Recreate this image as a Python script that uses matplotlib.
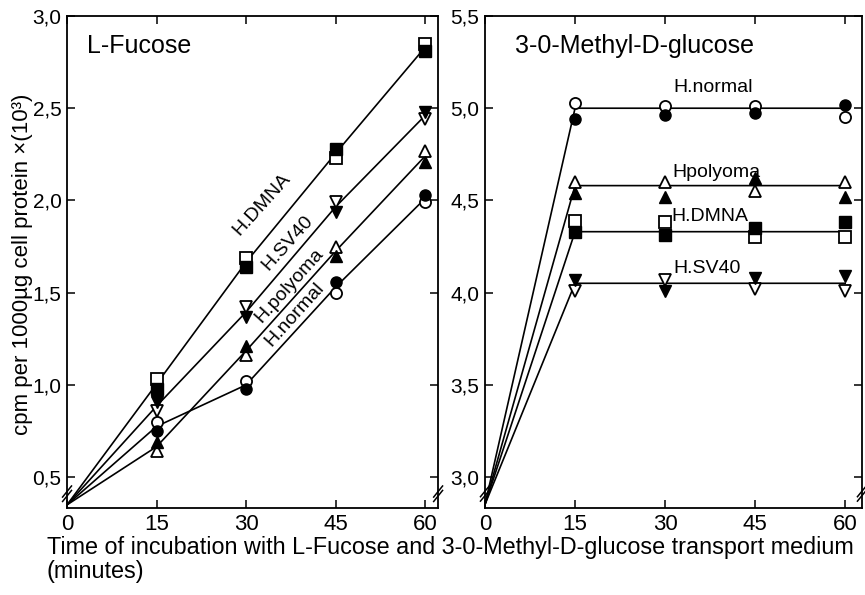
import numpy as np
import matplotlib.pyplot as plt
import matplotlib.transforms as mtransforms

plt.rcParams['font.family'] = ['Liberation Sans', 'DejaVu Sans']

# sampling times (minutes)
times = [15, 30, 45, 60]
line_times = [0, 15, 30, 45, 60]
cells = ['H.DMNA', 'H.SV40', 'H.polyoma', 'H.normal']
open_mk = ['s', 'v', '^', 'o']

# L-Fucose uptake, cpm per 1000 ug cell protein x 10^3 (two readings each)
fuc_open = {
    'H.DMNA':    [1.03, 1.69, 2.23, 2.85],
    'H.SV40':    [0.86, 1.42, 1.99, 2.44],
    'H.polyoma': [0.64, 1.16, 1.75, 2.27],
    'H.normal':  [0.80, 1.02, 1.50, 1.99],
}
fuc_filled = {
    'H.DMNA':    [0.98, 1.64, 2.28, 2.81],
    'H.SV40':    [0.91, 1.37, 1.94, 2.48],
    'H.polyoma': [0.69, 1.21, 1.70, 2.21],
    'H.normal':  [0.75, 0.98, 1.56, 2.03],
}
fuc_start = 0.35

# 3-O-Methyl-D-glucose uptake
mg_open = {
    'H.DMNA':    [4.39, 4.38, 4.30, 4.30],
    'H.SV40':    [4.01, 4.07, 4.02, 4.01],
    'H.polyoma': [4.60, 4.60, 4.55, 4.60],
    'H.normal':  [5.03, 5.01, 5.01, 4.955],
}
mg_filled = {
    'H.DMNA':    [4.33, 4.31, 4.35, 4.38],
    'H.SV40':    [4.07, 4.01, 4.08, 4.09],
    'H.polyoma': [4.54, 4.52, 4.62, 4.52],
    'H.normal':  [4.94, 4.965, 4.975, 5.02],
}
mg_plateau = {'H.DMNA': 4.33, 'H.SV40': 4.05, 'H.polyoma': 4.58, 'H.normal': 5.0}
mg_start = 2.85

fig = plt.figure(figsize=(8.65, 5.95), dpi=100)
ax1 = fig.add_axes([0.0775, 0.146, 0.429, 0.827])
ax2 = fig.add_axes([0.5607, 0.146, 0.4358, 0.827])


def style(ax, yticks, ylim, xmax):
    ax.set_xlim(0, xmax)
    ax.set_ylim(*ylim)
    ax.set_xticks([0, 15, 30, 45, 60])
    ax.set_xticklabels(['0', '15', '30', '45', '60'], fontsize=16)
    ax.set_yticks(yticks)
    ax.set_yticklabels([f'{v:.1f}'.replace('.', ',') for v in yticks], fontsize=15)
    ax.tick_params(direction='in', length=6, width=1.1, top=True, right=True, pad=4)
    for s in ax.spines.values():
        s.set_linewidth(1.3)


def breaks(ax, y):
    tr = mtransforms.blended_transform_factory(ax.transAxes, ax.transData)
    for xa in (0, 1):
        for dy in (-0.012, 0.012):
            ax.plot([xa - 0.012, xa + 0.012], [y + dy - 0.03, y + dy + 0.03], transform=tr,
                    color='black', lw=1.1, clip_on=False, zorder=5)


# left: L-Fucose
for c, m in zip(cells, open_mk):
    mean = [(a + b) / 2 for a, b in zip(fuc_open[c], fuc_filled[c])]
    ax1.plot(line_times, [fuc_start] + mean, color='black', lw=1.2, zorder=2)
    ax1.plot(times, fuc_open[c], m, ms=8, mfc='white', mec='black', mew=1.3, zorder=3)
    ax1.plot(times, fuc_filled[c], m, ms=8, mfc='black', mec='black', zorder=3)
style(ax1, [0.5, 1.0, 1.5, 2.0, 2.5, 3.0], (0.332, 3.0), 62.2)
breaks(ax1, 0.41)
ax1.text(0.054, 0.94, 'L-Fucose', transform=ax1.transAxes, fontsize=18, va='center')
lab_pos = {'H.DMNA': (32.7, 1.98), 'H.SV40': (37.0, 1.77),
           'H.polyoma': (37.2, 1.54), 'H.normal': (38.2, 1.38)}
for c in cells:
    x, y = lab_pos[c]
    ax1.text(x, y, c, rotation=48, fontsize=14,
             ha='center', va='center', rotation_mode='anchor')

# right: 3-O-Methyl-D-glucose
for c, m in zip(cells, open_mk):
    lvl = mg_plateau[c]
    ax2.plot(line_times, [mg_start] + [lvl] * len(times), color='black', lw=1.2, zorder=2)
    ax2.plot(times, mg_open[c], m, ms=8, mfc='white', mec='black', mew=1.3, zorder=3)
    ax2.plot(times, mg_filled[c], m, ms=8, mfc='black', mec='black', zorder=3)
style(ax2, [3.0, 3.5, 4.0, 4.5, 5.0, 5.5], (2.83, 5.5), 62.8)
breaks(ax2, 2.91)
ax2.text(0.08, 0.94, '3-0-Methyl-D-glucose', transform=ax2.transAxes, fontsize=18, va='center')
rlab = {'H.normal': (38.0, 5.11, 'H.normal'), 'H.polyoma': (38.6, 4.65, 'Hpolyoma'),
        'H.DMNA': (37.5, 4.41, 'H.DMNA'), 'H.SV40': (37.0, 4.13, 'H.SV40')}
for c in cells:
    x, y, t = rlab[c]
    ax2.text(x, y, t, fontsize=14, ha='center', va='center')

fig.text(0.026, 0.555, 'cpm per 1000µg cell protein ×(10³)', rotation=90,
         fontsize=16, ha='center', va='center')
fig.text(0.054, 0.079, 'Time of incubation with L-Fucose and 3-0-Methyl-D-glucose transport medium',
         fontsize=16.8, ha='left', va='center')
fig.text(0.054, 0.040, '(minutes)', fontsize=16.8, ha='left', va='center')

fig.savefig('out.png', dpi=100)
